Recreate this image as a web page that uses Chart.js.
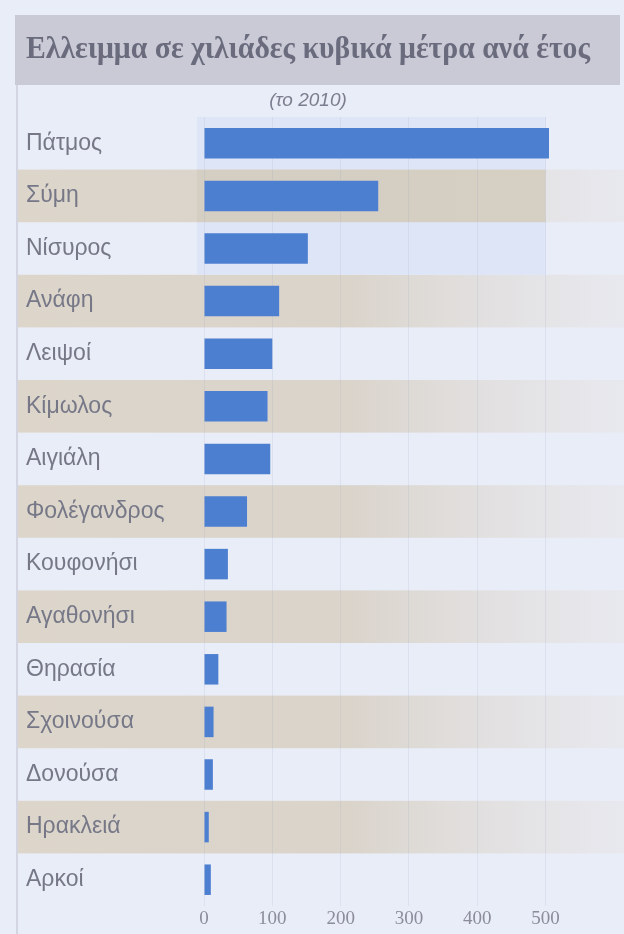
<!DOCTYPE html>
<html>
<head>
<meta charset="utf-8">
<script src="https://cdn.jsdelivr.net/npm/chart.js@4"></script>
<style>
  html, body { margin: 0; padding: 0; background: #e9edf7; }
  #wrap { width: 624px; height: 934px; }
</style>
</head>
<body>
<div id="wrap"><canvas id="deficitChart"></canvas></div>
<script>
// Islands, largest deficit first
const islands = [
  "Πάτμος", "Σύμη", "Νίσυρος", "Ανάφη", "Λειψοί", "Κίμωλος", "Αιγιάλη",
  "Φολέγανδρος", "Κουφονήσι", "Αγαθονήσι", "Θηρασία", "Σχοινούσα",
  "Δονούσα", "Ηρακλειά", "Αρκοί"
];

// Deficit, thousand cubic metres per year (2010)
const deficit = [505, 255, 152, 110, 100, 93, 97, 63, 35, 33, 21, 14, 13, 7, 10];

const xTicks = [0, 100, 200, 300, 400, 500];

const titleText = "Ελλειμμα σε χιλιάδες κυβικά μέτρα ανά έτος";
const subtitleText = "(το 2010)";

// ===== background: title band + alternating row stripes =====
const paperBands = {
  id: "paperBands",
  beforeDraw(chart) {
    const { ctx, chartArea, scales } = chart;
    const y = scales.y;
    const step = Math.abs(y.getPixelForValue(1) - y.getPixelForValue(0));

    ctx.save();
    ctx.fillStyle = "#e9edf7";
    ctx.fillRect(0, 0, chart.width, chart.height);

    // grey band behind the title
    ctx.fillStyle = "#c9cad6";
    ctx.fillRect(15, 15, chart.width - 19, 70);

    // faint page fold on the left
    ctx.fillStyle = "rgba(190,192,205,0.5)";
    ctx.fillRect(16, 85, 2, chart.height - 85);

    islands.forEach((_, i) => {
      if (i % 2 === 0) return;
      const top = y.getPixelForValue(i) - step / 2;
      const g = ctx.createLinearGradient(18, 0, chart.width, 0);
      g.addColorStop(0, "rgba(220,212,200,0.95)");
      g.addColorStop(0.55, "rgba(216,209,198,0.9)");
      g.addColorStop(1, "rgba(230,228,230,0.5)");
      ctx.fillStyle = g;
      ctx.fillRect(18, top, chart.width - 18, step);
    });

    // framed box around the first three rows
    const boxLeft = chartArea.left - 7;
    const boxW = scales.x.getPixelForValue(500) - boxLeft;
    ctx.fillStyle = "rgba(221,229,245,0.95)";
    ctx.fillRect(boxLeft, y.getPixelForValue(0) - step / 2, boxW, step);
    ctx.fillRect(boxLeft, y.getPixelForValue(2) - step / 2, boxW, step);
    ctx.fillStyle = "rgba(212,205,194,0.95)";
    ctx.fillRect(boxLeft, y.getPixelForValue(1) - step / 2, boxW, step);
    ctx.restore();
  }
};

const ctx = document.getElementById("deficitChart");

new Chart(ctx, {
  type: "bar",
  data: {
    labels: islands,
    datasets: [{
      data: deficit,
      backgroundColor: "#4d7fd1",
      borderWidth: 0,
      barPercentage: 0.58,
      categoryPercentage: 1
    }]
  },
  options: {
    indexAxis: "y",
    responsive: true,
    maintainAspectRatio: false,
    animation: false,
    layout: { padding: { left: 26, right: 34, top: 0, bottom: 0 } },
    plugins: {
      legend: { display: false },
      tooltip: { enabled: false },
      title: {
        display: true,
        text: titleText,
        color: "#6a6c7e",
        font: { family: "Liberation Serif", size: 31, weight: "bold" },
        padding: { top: 31, bottom: 9 }
      },
      subtitle: {
        display: true,
        text: subtitleText,
        color: "#7c7e90",
        font: { family: "Liberation Sans", size: 19, style: "italic" },
        padding: { top: 12, bottom: 5 }
      }
    },
    scales: {
      x: {
        min: 0,
        max: 565,
        afterBuildTicks: scale => {
          scale.ticks = xTicks.map(v => ({ value: v }));
        },
        afterFit: scale => { scale.height = 28; },
        border: { display: false },
        grid: {
          color: "rgba(150,160,195,0.16)",
          drawTicks: false
        },
        ticks: {
          padding: 2,
          color: "#8b8c9c",
          font: { family: "Liberation Serif", size: 19 }
        }
      },
      y: {
        afterFit: scale => { scale.width = 178; },
        border: { display: false },
        grid: { display: false },
        ticks: {
          crossAlign: "far",
          padding: 0,
          color: "#767888",
          font: { family: "Liberation Sans", size: 23 }
        }
      }
    }
  },
  plugins: [paperBands]
});
</script>
</body>
</html>
